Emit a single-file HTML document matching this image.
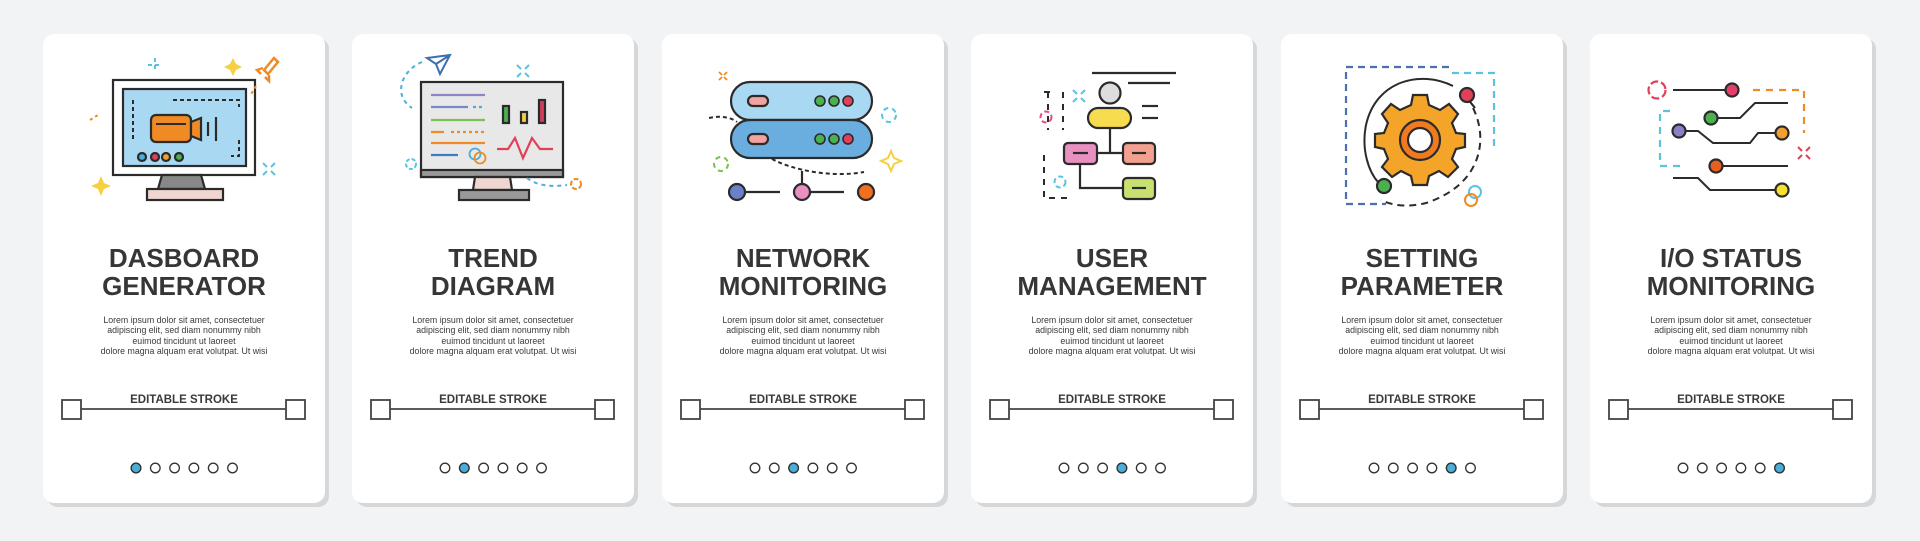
<!DOCTYPE html>
<html><head><meta charset="utf-8"><style>
html,body{margin:0;padding:0;background:#f1f3f4;}
svg{display:block;}
text{font-family:"Liberation Sans",sans-serif;fill:#333;}
.t{font-size:26px;font-weight:bold;text-anchor:middle;fill:#363636;}
.b{font-size:8.8px;text-anchor:middle;fill:#3a3a3a;}
.e{font-size:11.5px;font-weight:bold;text-anchor:middle;fill:#3a3a3a;}
.k{stroke:#2b2b2b;stroke-width:2.2;}
</style></head><body>
<svg width="1920" height="541" viewBox="0 0 1920 541" xmlns="http://www.w3.org/2000/svg">
<defs>
<g id="card">
  <rect x="4" y="4" width="282" height="469" rx="11" fill="#d5d7d8"/>
  <rect x="0" y="0" width="282" height="469" rx="11" fill="#fff"/>
  <text class="b" x="141" y="289">Lorem ipsum dolor sit amet, consectetuer</text>
  <text class="b" x="141" y="299">adipiscing elit, sed diam nonummy nibh</text>
  <text class="b" x="141" y="310">euimod tincidunt ut laoreet</text>
  <text class="b" x="141" y="320">dolore magna alquam erat volutpat. Ut wisi</text>
  <text class="e" x="141" y="369">EDITABLE STROKE</text>
  <line x1="38" y1="375" x2="243" y2="375" stroke="#444" stroke-width="1.8"/>
  <rect x="19" y="366" width="19" height="19" fill="#fff" stroke="#444" stroke-width="1.8"/>
  <rect x="243" y="366" width="19" height="19" fill="#fff" stroke="#444" stroke-width="1.8"/>
  <g fill="#fff" stroke="#333" stroke-width="1.3">
    <circle cx="93" cy="434" r="4.8"/><circle cx="112.3" cy="434" r="4.8"/><circle cx="131.6" cy="434" r="4.8"/>
    <circle cx="150.9" cy="434" r="4.8"/><circle cx="170.2" cy="434" r="4.8"/><circle cx="189.5" cy="434" r="4.8"/>
  </g>
</g>
</defs>

<!-- Card 1 -->
<g transform="translate(43,34)">
  <use href="#card"/>
  <circle cx="93" cy="434" r="4.8" fill="#4aaedc" stroke="#333" stroke-width="1.3"/>
  <text class="t" x="141" y="233">DASBOARD</text>
  <text class="t" x="141" y="261">GENERATOR</text>
  <g transform="translate(0,-34)">
    <rect x="70" y="80" width="142" height="95" fill="#fff" class="k"/>
    <rect x="80" y="89" width="123" height="77" fill="#a9d8f2" class="k"/>
    <path d="M119 175 L158 175 L162 189 L115 189 Z" fill="#888" class="k"/>
    <rect x="104" y="189" width="76" height="11" fill="#f0d6d0" class="k"/>
    <path d="M90 100 V140 M130 100 H196 V107 M196 140 V156 H188" stroke="#2b2b2b" stroke-width="2" fill="none" stroke-dasharray="4 3"/>
    <rect x="108" y="115" width="40" height="27" rx="5" fill="#f08a24" class="k"/>
    <path d="M148 122 L158 118 V140 L148 136 Z" fill="#f08a24" class="k"/>
    <path d="M113 124 H143" stroke="#2b2b2b" stroke-width="2"/>
    <line x1="165" y1="122" x2="165" y2="136" class="k"/><line x1="173" y1="117" x2="173" y2="141" class="k"/>
    <circle cx="99" cy="157" r="4" fill="#4aaedc" class="k" stroke-width="1.5"/>
    <circle cx="112" cy="157" r="4" fill="#e0405a" class="k" stroke-width="1.5"/>
    <circle cx="123" cy="157" r="4" fill="#f0a030" class="k" stroke-width="1.5"/>
    <circle cx="136" cy="157" r="4" fill="#4cb050" class="k" stroke-width="1.5"/>
    <path d="M112 58 V72 M105 65 H119" stroke="#5bc3e0" stroke-width="2" stroke-dasharray="4 3"/>
    <path d="M190 58 l3 6 l6 3 l-6 3 l-3 6 l-3 -6 l-6 -3 l6 -3z" fill="#f5d040"/>
    <path d="M58 176 l3 7 l7 3 l-7 3 l-3 7 l-3 -7 l-7 -3 l7 -3z" fill="#f5d040"/>
    <path d="M221 70 l10 -12 l4 4 l-10 12 z M220 68 l-6 2 l4 4 M226 75 l0 6 l-4 -4" fill="none" stroke="#f08a24" stroke-width="2.5"/>
    <path d="M213 86 l-6 10" stroke="#f08a24" stroke-width="2" stroke-dasharray="3 3"/>
    <path d="M47 120 l8 -5" stroke="#f08a24" stroke-width="2" stroke-dasharray="3 3"/>
    <path d="M220 163 l4 4 M232 163 l-4 4 M220 175 l4 -4 M232 175 l-4 -4" stroke="#5bc3e0" stroke-width="2"/>
  </g>
</g>

<!-- Card 2 -->
<g transform="translate(352,34)">
  <use href="#card"/>
  <circle cx="112.3" cy="434" r="4.8" fill="#4aaedc" stroke="#333" stroke-width="1.3"/>
  <text class="t" x="141" y="233">TREND</text>
  <text class="t" x="141" y="261">DIAGRAM</text>
  <g transform="translate(0,-34)">
    <rect x="69" y="82" width="142" height="95" fill="#e8e8e8" class="k"/>
    <rect x="69" y="170" width="142" height="7" fill="#999" class="k"/>
    <path d="M123 177 H158 L160 190 H121 Z" fill="#f0d6d0" class="k"/>
    <rect x="107" y="190" width="70" height="10" fill="#999" class="k"/>
    <g stroke-width="2.2">
      <line x1="79" y1="95" x2="133" y2="95" stroke="#8a86c8"/>
      <line x1="79" y1="107" x2="116" y2="107" stroke="#7a8ac8"/><line x1="121" y1="107" x2="133" y2="107" stroke="#4aaedc" stroke-dasharray="3 3"/>
      <line x1="79" y1="120" x2="133" y2="120" stroke="#7cc050"/>
      <line x1="79" y1="132" x2="92" y2="132" stroke="#f08a24"/><line x1="99" y1="132" x2="133" y2="132" stroke="#f08a24" stroke-dasharray="3 3"/>
      <line x1="79" y1="143" x2="133" y2="143" stroke="#f08a24"/>
      <line x1="79" y1="155" x2="106" y2="155" stroke="#3a80c0"/>
    </g>
    <rect x="151" y="106" width="6" height="17" fill="#4cb050" class="k" stroke-width="1.8"/>
    <rect x="169" y="112" width="6" height="11" fill="#f5d040" class="k" stroke-width="1.8"/>
    <rect x="187" y="100" width="6" height="23" fill="#d0405a" class="k" stroke-width="1.8"/>
    <path d="M145 149 H156 L163 138 L171 158 L180 138 L188 149 H201" fill="none" stroke="#e0405a" stroke-width="2.2"/>
    <circle cx="123" cy="154" r="5.5" fill="none" stroke="#4aaedc" stroke-width="1.8"/>
    <circle cx="128" cy="158" r="5.5" fill="none" stroke="#f08a24" stroke-width="1.8"/>
    <path d="M75 58 L98 55 L88 74 L84 64 Z M84 64 L98 55" fill="none" stroke="#3a70b0" stroke-width="2"/>
    <path d="M70 62 C50 70 40 95 60 108" fill="none" stroke="#4aaedc" stroke-width="2" stroke-dasharray="4 4"/>
    <circle cx="59" cy="164" r="5" fill="none" stroke="#5bc3e0" stroke-width="2" stroke-dasharray="4 2"/>
    <path d="M175 178 C185 186 200 187 215 185" fill="none" stroke="#4aaedc" stroke-width="2" stroke-dasharray="4 4"/>
    <circle cx="224" cy="184" r="5" fill="none" stroke="#f08a24" stroke-width="2" stroke-dasharray="5 2"/>
    <path d="M165 65 l4 4 M177 65 l-4 4 M165 77 l4 -4 M177 77 l-4 -4" stroke="#5bc3e0" stroke-width="2"/>
  </g>
</g>

<!-- Card 3 -->
<g transform="translate(662,34)">
  <use href="#card"/>
  <circle cx="131.6" cy="434" r="4.8" fill="#4aaedc" stroke="#333" stroke-width="1.3"/>
  <text class="t" x="141" y="233">NETWORK</text>
  <text class="t" x="141" y="261">MONITORING</text>
  <g transform="translate(0,-34)">
    <path d="M47 118 C60 115 70 118 75 122" fill="none" stroke="#2b2b2b" stroke-width="2" stroke-dasharray="4 3"/>
    <rect x="69" y="82" width="141" height="38" rx="19" fill="#a9d8f2" class="k"/>
    <rect x="69" y="120" width="141" height="38" rx="19" fill="#6aaee0" class="k"/>
    <rect x="86" y="96" width="20" height="10" rx="5" fill="#f2a3a0" class="k" stroke-width="1.8"/>
    <rect x="86" y="134" width="20" height="10" rx="5" fill="#f2a3a0" class="k" stroke-width="1.8"/>
    <g stroke="#2b2b2b" stroke-width="1.6">
      <circle cx="158" cy="101" r="5" fill="#4cb050"/><circle cx="172" cy="101" r="5" fill="#4cb050"/><circle cx="186" cy="101" r="5" fill="#e0405a"/>
      <circle cx="158" cy="139" r="5" fill="#4cb050"/><circle cx="172" cy="139" r="5" fill="#4cb050"/><circle cx="186" cy="139" r="5" fill="#e0405a"/>
    </g>
    <path d="M110 159 C130 170 170 178 202 172" fill="none" stroke="#2b2b2b" stroke-width="2" stroke-dasharray="4 3"/>
    <line x1="140" y1="171" x2="140" y2="184" class="k"/>
    <line x1="75" y1="192" x2="118" y2="192" class="k"/><line x1="140" y1="192" x2="182" y2="192" class="k"/>
    <circle cx="75" cy="192" r="8" fill="#6a80c8" class="k"/>
    <circle cx="140" cy="192" r="8" fill="#e890c0" class="k"/>
    <circle cx="204" cy="192" r="8" fill="#f07020" class="k"/>
    <path d="M57 72 l3 3 M65 72 l-3 3 M57 80 l3 -3 M65 80 l-3 -3" stroke="#f08a24" stroke-width="1.8"/>
    <circle cx="227" cy="115" r="7" fill="none" stroke="#5bc3e0" stroke-width="2" stroke-dasharray="5 4"/>
    <circle cx="59" cy="164" r="7" fill="none" stroke="#7cc050" stroke-width="2" stroke-dasharray="5 4"/>
    <path d="M229 151 l3 7 l7 3 l-7 3 l-3 7 l-3 -7 l-7 -3 l7 -3z" fill="none" stroke="#f5d040" stroke-width="2"/>
  </g>
</g>

<!-- Card 4 -->
<g transform="translate(971,34)">
  <use href="#card"/>
  <circle cx="150.9" cy="434" r="4.8" fill="#4aaedc" stroke="#333" stroke-width="1.3"/>
  <text class="t" x="141" y="233">USER</text>
  <text class="t" x="141" y="261">MANAGEMENT</text>
  <g transform="translate(0,-34)">
    <line x1="121" y1="73" x2="205" y2="73" class="k"/>
    <line x1="157" y1="83" x2="199" y2="83" class="k"/>
    <line x1="171" y1="106" x2="187" y2="106" class="k"/><line x1="171" y1="118" x2="187" y2="118" class="k"/>
    <circle cx="139" cy="93" r="10.5" fill="#ddd" class="k"/>
    <line x1="139" y1="128" x2="139" y2="153" class="k"/>
    <line x1="126" y1="153" x2="152" y2="153" class="k"/>
    <path d="M109 164 V188 H152" fill="none" class="k"/>
    <rect x="117" y="108" width="43" height="20" rx="10" fill="#f8dc50" class="k"/>
    <rect x="93" y="143" width="33" height="21" rx="4" fill="#e890c0" class="k"/>
    <rect x="152" y="143" width="32" height="21" rx="4" fill="#f4a090" class="k"/>
    <rect x="152" y="178" width="32" height="21" rx="4" fill="#c8e070" class="k"/>
    <line x1="102" y1="153" x2="117" y2="153" class="k"/><line x1="161" y1="153" x2="175" y2="153" class="k"/><line x1="161" y1="188" x2="175" y2="188" class="k"/>
    <path d="M77 92 V130 M92 92 V130 M73 92 H83 M73 155 V198 H99" fill="none" stroke="#2b2b2b" stroke-width="2" stroke-dasharray="6 6"/>
    <circle cx="75" cy="117" r="5.5" fill="none" stroke="#e0507a" stroke-width="2" stroke-dasharray="5 3"/>
    <circle cx="89" cy="182" r="5.5" fill="none" stroke="#5bc3e0" stroke-width="2" stroke-dasharray="5 3"/>
    <path d="M102 90 l4 4 M114 90 l-4 4 M102 102 l4 -4 M114 102 l-4 -4" stroke="#5bc3e0" stroke-width="2"/>
  </g>
</g>

<!-- Card 5 -->
<g transform="translate(1281,34)">
  <use href="#card"/>
  <circle cx="170.2" cy="434" r="4.8" fill="#4aaedc" stroke="#333" stroke-width="1.3"/>
  <text class="t" x="141" y="233">SETTING</text>
  <text class="t" x="141" y="261">PARAMETER</text>
  <g transform="translate(0,-34)">
    <path d="M65 72 V204 H105 M65 67 H171" fill="none" stroke="#4a70b0" stroke-width="2.2" stroke-dasharray="7 5"/>
    <path d="M171 73 H213 V150" fill="none" stroke="#5bc3e0" stroke-width="2.2" stroke-dasharray="7 5"/>
    <path d="M172 86 C140 70 95 80 85 125 C80 150 88 172 97 182" fill="none" stroke="#2b2b2b" stroke-width="2"/>
    <path d="M192 108 C208 140 200 185 145 203 C125 208 110 205 100 200" fill="none" stroke="#2b2b2b" stroke-width="2" stroke-dasharray="7 5"/>
    <g transform="translate(139,140)">
      <path d="M-7 -45 H7 L9 -35 L20 -30 L29 -36 L38 -26 L32 -17 L36 -7 L45 -6 V7 L36 9 L32 19 L38 27 L28 37 L19 31 L9 36 L7 45 H-7 L-9 36 L-19 31 L-28 37 L-38 27 L-32 19 L-36 9 L-45 7 V-6 L-36 -7 L-32 -17 L-38 -26 L-29 -36 L-20 -30 L-9 -35 Z" fill="#f4a428" class="k"/>
      <circle r="20" fill="#f07a20" class="k"/>
      <circle r="12" fill="#fff" class="k"/>
    </g>
    <line x1="186" y1="98" x2="194" y2="108" class="k"/>
    <circle cx="186" cy="95" r="7" fill="#e0405a" class="k"/>
    <circle cx="103" cy="186" r="7" fill="#4cb050" class="k"/>
    <circle cx="194" cy="192" r="6" fill="none" stroke="#5bc3e0" stroke-width="2"/>
    <circle cx="190" cy="200" r="6" fill="none" stroke="#f08a24" stroke-width="2"/>
  </g>
</g>

<!-- Card 6 -->
<g transform="translate(1590,34)">
  <use href="#card"/>
  <circle cx="189.5" cy="434" r="4.8" fill="#4aaedc" stroke="#333" stroke-width="1.3"/>
  <text class="t" x="141" y="233">I/O STATUS</text>
  <text class="t" x="141" y="261">MONITORING</text>
  <g transform="translate(0,-34)">
    <circle cx="67" cy="90" r="8.5" fill="none" stroke="#e0405a" stroke-width="2.2" stroke-dasharray="8 3"/>
    <path d="M163 90 H214 V133" fill="none" stroke="#f08a24" stroke-width="2.2" stroke-dasharray="7 6"/>
    <path d="M80 111 H70 V166 H90" fill="none" stroke="#5bc3e0" stroke-width="2.2" stroke-dasharray="7 6"/>
    <g fill="none" stroke="#2b2b2b" stroke-width="2">
      <path d="M83 90 H140"/>
      <path d="M121 118 H150 L165 103 H198"/>
      <path d="M89 131 H108 L123 143 H160 L168 133 H192"/>
      <path d="M126 166 H198"/>
      <path d="M83 178 H108 L120 190 H192"/>
    </g>
    <path d="M208 147 l4 4 M220 147 l-4 4 M208 159 l4 -4 M220 159 l-4 -4" stroke="#e0405a" stroke-width="2"/>
    <g stroke="#2b2b2b" stroke-width="2.2">
      <circle cx="142" cy="90" r="6.5" fill="#e0406a"/>
      <circle cx="121" cy="118" r="6.5" fill="#4cb050"/>
      <circle cx="89" cy="131" r="6.5" fill="#8a80c8"/>
      <circle cx="192" cy="133" r="6.5" fill="#f4a030"/>
      <circle cx="126" cy="166" r="6.5" fill="#e86020"/>
      <circle cx="192" cy="190" r="6.5" fill="#f8e030"/>
    </g>
  </g>
</g>
</svg>
</body></html>
